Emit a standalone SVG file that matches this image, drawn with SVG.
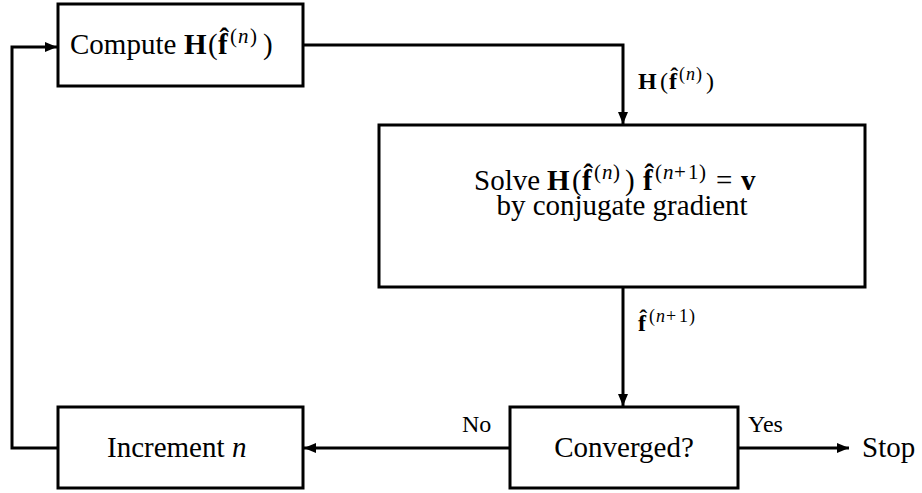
<svg xmlns="http://www.w3.org/2000/svg" width="922" height="493" viewBox="0 0 922 493">
<style>
  .box { fill: #ffffff; stroke: #000000; stroke-width: 3; }
  .conn { fill: none; stroke: #000000; stroke-width: 3; }
  .t { font-family: "Liberation Serif", "DejaVu Serif", serif; font-size: 29px; fill: #000000; }
  .s { font-family: "Liberation Serif", "DejaVu Serif", serif; font-size: 24px; fill: #000000; }
  .b { font-weight: bold; }
  .i { font-style: italic; }
  .sup { font-size: 21px; }
  .sups { font-size: 18px; }
</style>
<defs>
  <marker id="arr" markerUnits="userSpaceOnUse" markerWidth="14" markerHeight="12" refX="12" refY="6" orient="auto">
    <path d="M0,1 L12,6 L0,11 Z" fill="#000000"/>
  </marker>
</defs>
<rect width="922" height="493" fill="#ffffff"/>
<g id="connectors">
  <polyline class="conn" points="303,45 623,45 623,124" marker-end="url(#arr)"/>
  <polyline class="conn" points="623,287 623,406" marker-end="url(#arr)"/>
  <polyline class="conn" points="510,448 304,448" marker-end="url(#arr)"/>
  <polyline class="conn" points="738,448 849,448" marker-end="url(#arr)"/>
  <polyline class="conn" points="58,448 12,448 12,47 57,47" marker-end="url(#arr)"/>
  <text class="s" y="89"><tspan class="b" x="638">H</tspan><tspan x="660">(</tspan><tspan class="b" x="669">f̂</tspan><tspan class="sups" x="679" dy="-9">(</tspan><tspan class="sups i" x="686">n</tspan><tspan class="sups" x="696">)</tspan><tspan x="706" dy="9">)</tspan></text>
  <text class="s" y="331"><tspan class="b" x="638">f̂</tspan><tspan class="sups" x="649" dy="-9">(</tspan><tspan class="sups i" x="656">n</tspan><tspan class="sups" x="666">+</tspan><tspan class="sups" x="679">1</tspan><tspan class="sups" x="689">)</tspan></text>
  <text class="s" x="462" y="432">No</text>
  <text class="s" x="748" y="432">Yes</text>
</g>
<g id="compute">
  <rect class="box" x="58" y="4" width="245" height="82"/>
  <text class="t" y="54"><tspan x="70">Compute</tspan><tspan class="b" x="184">H</tspan><tspan x="208">(</tspan><tspan class="b" x="218">f̂</tspan><tspan class="sup" x="230" dy="-11">(</tspan><tspan class="sup i" x="238">n</tspan><tspan class="sup" x="250">)</tspan><tspan x="263" dy="11">)</tspan></text>
</g>
<g id="solve">
  <rect class="box" x="379" y="125" width="486" height="162"/>
  <text class="t" y="190"><tspan x="474">Solve</tspan><tspan class="b" x="547">H</tspan><tspan x="572">(</tspan><tspan class="b" x="582">f̂</tspan><tspan class="sup" x="594" dy="-11">(</tspan><tspan class="sup i" x="602">n</tspan><tspan class="sup" x="613">)</tspan><tspan x="625" dy="11">)</tspan><tspan class="b" x="643">f̂</tspan><tspan class="sup" x="655" dy="-11">(</tspan><tspan class="sup i" x="663">n</tspan><tspan class="sup" x="674">+</tspan><tspan class="sup" x="688">1</tspan><tspan class="sup" x="699">)</tspan><tspan x="716" dy="11">=</tspan><tspan class="b" x="741">v</tspan></text>
  <text class="t" x="622" y="215" text-anchor="middle">by conjugate gradient</text>
</g>
<g id="converged">
  <rect class="box" x="510" y="407" width="228" height="81"/>
  <text class="t" x="624" y="457" text-anchor="middle">Converged?</text>
</g>
<g id="increment">
  <rect class="box" x="58" y="407" width="245" height="81"/>
  <text class="t" y="457"><tspan x="107">Increment</tspan><tspan class="i" x="232">n</tspan></text>
</g>
<g id="stop">
  <text class="t" x="862" y="457">Stop</text>
</g>
</svg>
